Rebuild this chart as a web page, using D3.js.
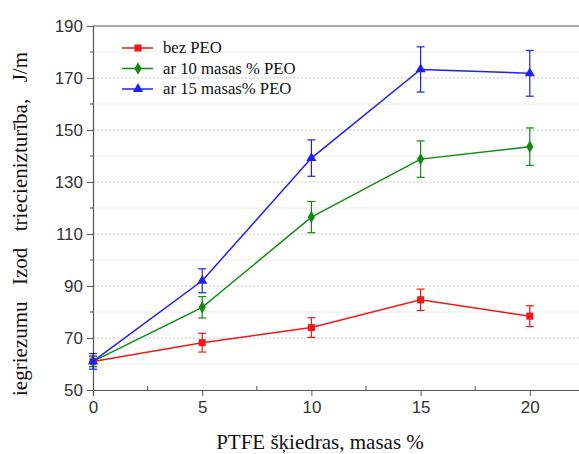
<!DOCTYPE html>
<html>
<head>
<meta charset="utf-8">
<script src="https://cdn.jsdelivr.net/npm/d3@7"></script>
<style>
  body { margin: 0; background: #fff; }
  svg { display: block; }
</style>
</head>
<body>
<div id="chart"></div>
<script>
const xValues = [0, 5, 10, 15, 20];

const seriesNames = ["bez PEO", "ar 10 masas % PEO", "ar 15 masas% PEO"];
const bezPeo = [61, 68.2, 74, 84.7, 78.4];
const bezPeoErr = [2, 3.6, 3.8, 4.1, 4];
const peo10 = [61, 81.8, 116.5, 138.8, 143.6];
const peo10Err = [2, 4.1, 6, 7, 7.2];
const peo15 = [61, 92, 139.2, 173.3, 171.8];
const peo15Err = [3, 4.6, 7, 8.7, 8.8];

const colors = ["#f01818", "#138a13", "#2020f0"];
const symbols = [d3.symbolSquare, d3.symbolDiamond, d3.symbolTriangle];

const yMajor = [50, 70, 90, 110, 130, 150, 170, 190];
const yMinor = [60, 80, 100, 120, 140, 160, 180];
const xMajor = [0, 5, 10, 15, 20];
const xMinor = [2.5, 7.5, 12.5, 17.5];

const width = 579;
const height = 454;
const margin = { left: 93, top: 26, bottom: 64 };

const svg = d3
  .select("#chart")
  .append("svg")
  .attr("width", width)
  .attr("height", height);

const x = d3.scaleLinear().domain([0, 22.5]).range([margin.left, margin.left + 22.5 * 21.84]);
const y = d3.scaleLinear().domain([50, 190]).range([height - margin.bottom, margin.top]);

// minor grid
svg
  .append("g")
  .selectAll("line")
  .data(yMinor)
  .enter()
  .append("line")
  .attr("x1", x(0))
  .attr("x2", width)
  .attr("y1", (d) => y(d))
  .attr("y2", (d) => y(d))
  .attr("stroke", "#ececec")
  .attr("stroke-width", 1);

// major grid
svg
  .append("g")
  .selectAll("line")
  .data(yMajor.slice(1, -1))
  .enter()
  .append("line")
  .attr("x1", x(0))
  .attr("x2", width)
  .attr("y1", (d) => y(d))
  .attr("y2", (d) => y(d))
  .attr("stroke", "#c8c8c8")
  .attr("stroke-width", 1)
  .attr("stroke-dasharray", "2,2");

// top frame
svg
  .append("line")
  .attr("x1", x(0))
  .attr("x2", width)
  .attr("y1", y(190))
  .attr("y2", y(190))
  .attr("stroke", "#555")
  .attr("stroke-width", 1.2);

// y axis
const yAxis = svg
  .append("g")
  .attr("transform", `translate(${x(0)},0)`)
  .call(d3.axisLeft(y).tickValues(yMajor).tickSize(6).tickPadding(4));
yAxis
  .selectAll("line.minor")
  .data(yMinor)
  .enter()
  .append("line")
  .attr("class", "minor")
  .attr("x1", -3)
  .attr("x2", 0)
  .attr("y1", (d) => y(d))
  .attr("y2", (d) => y(d))
  .attr("stroke", "#555");

// x axis
const xAxis = svg
  .append("g")
  .attr("transform", `translate(0,${y(50)})`)
  .call(d3.axisBottom(x).tickValues(xMajor).tickSize(6).tickPadding(5));
xAxis
  .selectAll("line.minor")
  .data(xMinor)
  .enter()
  .append("line")
  .attr("class", "minor")
  .attr("x1", (d) => x(d))
  .attr("x2", (d) => x(d))
  .attr("y1", 0)
  .attr("y2", -4)
  .attr("stroke", "#555");

[yAxis, xAxis].forEach((a) => {
  a.select(".domain").attr("stroke", "#555").attr("stroke-width", 1.2);
  a.selectAll(".tick line").attr("stroke", "#555");
  a.selectAll("text")
    .attr("fill", "#333")
    .style("font-family", "Liberation Sans, Arial, sans-serif")
    .style("font-size", "17px");
});

// series
const series = [
  { name: seriesNames[0], values: bezPeo, errs: bezPeoErr },
  { name: seriesNames[1], values: peo10, errs: peo10Err },
  { name: seriesNames[2], values: peo15, errs: peo15Err },
];

const line = d3
  .line()
  .x((d) => x(d.x))
  .y((d) => y(d.v));

series.forEach((s, i) => {
  const pts = xValues.map((xv, j) => ({ x: xv, v: s.values[j], e: s.errs[j] }));
  const g = svg.append("g");
  g.append("path")
    .datum(pts)
    .attr("d", line)
    .attr("fill", "none")
    .attr("stroke", colors[i])
    .attr("stroke-width", 1.5);

  const eb = g.selectAll("g.err").data(pts).enter().append("g").attr("class", "err");
  eb.append("line")
    .attr("x1", (d) => x(d.x))
    .attr("x2", (d) => x(d.x))
    .attr("y1", (d) => y(d.v - d.e))
    .attr("y2", (d) => y(d.v + d.e))
    .attr("stroke", colors[i])
    .attr("stroke-width", 1.2);
  [-1, 1].forEach((sign) => {
    eb.append("line")
      .attr("x1", (d) => x(d.x) - 4)
      .attr("x2", (d) => x(d.x) + 4)
      .attr("y1", (d) => y(d.v + sign * d.e))
      .attr("y2", (d) => y(d.v + sign * d.e))
      .attr("stroke", colors[i])
      .attr("stroke-width", 1.2);
  });

  g.selectAll("path.sym")
    .data(pts)
    .enter()
    .append("path")
    .attr("class", "sym")
    .attr("d", d3.symbol().type(symbols[i]).size(i === 0 ? 50 : 45))
    .attr("transform", (d) => `translate(${x(d.x)},${y(d.v)})`)
    .attr("fill", colors[i]);
});

// legend
const legend = svg.append("g");
series.forEach((s, i) => {
  const ly = 48 + i * 20.5;
  legend
    .append("line")
    .attr("x1", 122)
    .attr("x2", 153)
    .attr("y1", ly)
    .attr("y2", ly)
    .attr("stroke", colors[i])
    .attr("stroke-width", 1.5);
  legend
    .append("path")
    .attr("d", d3.symbol().type(symbols[i]).size(i === 0 ? 50 : 45))
    .attr("transform", `translate(138,${ly})`)
    .attr("fill", colors[i]);
  legend
    .append("text")
    .attr("x", 163)
    .attr("y", ly + 5)
    .text(s.name)
    .attr("fill", "#111")
    .style("font-family", "Liberation Serif, Times New Roman, serif")
    .style("font-size", "16.7px");
});

// axis titles
svg
  .append("text")
  .attr("x", 320)
  .attr("y", 449)
  .attr("text-anchor", "middle")
  .text("PTFE šķiedras, masas %")
  .attr("fill", "#111")
  .style("font-family", "Liberation Serif, Times New Roman, serif")
  .style("font-size", "21px");

svg
  .append("text")
  .attr("transform", "translate(27,224) rotate(-90)")
  .attr("text-anchor", "middle")
  .attr("xml:space", "preserve")
  .text("iegriezumu  Izod  triecienizturība,  J/m")
  .attr("fill", "#111")
  .style("font-family", "Liberation Serif, Times New Roman, serif")
  .style("font-size", "21px")
  .style("word-spacing", "3px");
</script>
</body>
</html>
